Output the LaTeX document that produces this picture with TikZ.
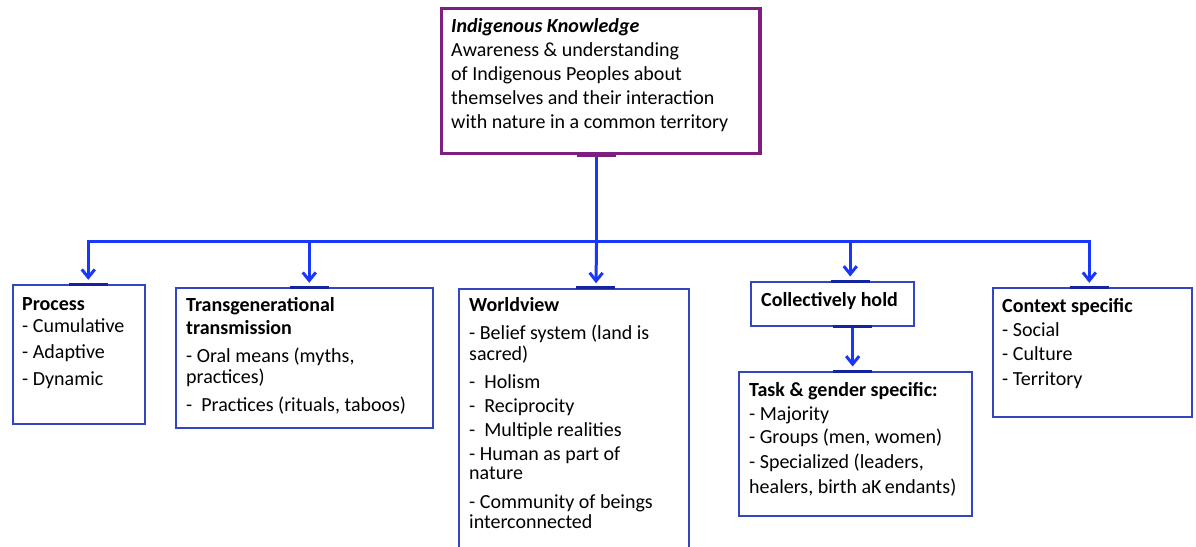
\documentclass[tikz,border=0pt]{standalone}
\usepackage{fontspec}
\setmainfont{Carlito}
\usetikzlibrary{arrows.meta}

\definecolor{ikpurple}{RGB}{125,30,128}
\definecolor{linkblue}{RGB}{25,55,250}
\definecolor{framebl}{RGB}{50,70,195}
\definecolor{pinblue}{RGB}{20,35,160}

\begin{document}
\begin{tikzpicture}[x=1pt,y=-1pt,
  frame/.style={draw=framebl, line width=1.9pt, fill=white, inner sep=0pt,
    anchor=north west},
  topframe/.style={draw=ikpurple, line width=3.2pt, fill=white, inner sep=0pt,
    anchor=north west},
  % texts are anchored at the baseline of their last line
  txt/.style={anchor=base west, inner sep=0pt, align=left,
    font=\fontsize{20}{24}\selectfont},
  link/.style={draw=linkblue, line width=3pt, line join=miter,
    shorten >=4.5pt, -{Straight Barb[length=8pt,width=13pt]}},
  pinline/.style={draw=pinblue, line width=3pt},
  pinpurple/.style={draw=ikpurple, line width=4pt}]

\useasboundingbox (0,0) rectangle (1196,546);

% boxes
\node[topframe, minimum width=318.3, minimum height=145] (ik) at (440,6.7) {};
\node[frame, minimum width=132.3, minimum height=138.4] (process) at (11.7,284.3) {};
\node[frame, minimum width=256.7, minimum height=139.4] (trans) at (175,287.3) {};
\node[frame, minimum width=229.4, minimum height=266] (world) at (458.3,287.7) {};
\node[frame, minimum width=163, minimum height=44] (coll) at (750,281) {};
\node[frame, minimum width=232.7, minimum height=144] (task) at (738.3,371) {};
\node[frame, minimum width=199.3, minimum height=128.4] (context) at (991.7,287.3) {};

% texts
\node[txt] (iktext) at (451,128.3)
  {\textbf{\textit{Indigenous Knowledge}}\\
   Awareness \& understanding\\
   of Indigenous Peoples about\\
   themselves and their interaction\\
   with nature in a common territory};
\node[txt] (processtext) at (22,385)
  {\textbf{Process}\\[-2pt]
   - Cumulative\\[2pt]
   - Adaptive\\[3pt]
   - Dynamic};
\node[txt] (transtext) at (186,411.7)
  {\textbf{Transgenerational}\\[-0.7pt]
   \textbf{transmission}\\[4pt]
   - Oral means (myths,\\[-3pt]
   practices)\\[4pt]
   -\ \ Practices (rituals, taboos)};
\node[txt] (worldtext) at (469,528.3)
  {\textbf{Worldview}\\[3.6pt]
   - Belief system (land is\\[-3.3pt]
   sacred)\\[4.3pt]
   -\ \ Holism\\[0.4pt]
   -\ \ Reciprocity\\
   -\ \ Multiple realities\\[-0.7pt]
   - Human as part of\\[-4.7pt]
   nature\\[5pt]
   - Community of beings\\[-4pt]
   interconnected};
\node[txt] (colltext) at (761,306.7) {\textbf{Collectively hold}};
\node[txt] (tasktext) at (749,493.3)
  {\textbf{Task \& gender specific:}\\[-0.7pt]
   - Majority\\[-0.7pt]
   - Groups (men, women)\\[1pt]
   - Specialized (leaders,\\[1pt]
   healers, birth aK\,endants)};
\node[txt] (contexttext) at (1002,385)
  {\textbf{Context specific}\\[-0.7pt]
   - Social\\
   - Culture\\[1pt]
   - Territory};

% connectors: trunk, bus and drops
\coordinate (hub) at ([xshift=-4.2]ik.south |- 0,241);
\draw[link, -, shorten >=0pt] ([xshift=-4.2]ik.south) -- (hub);
\draw[link] (hub) -| ([xshift=9.45]process.north);
\draw[link] (hub) -| ([xshift=4.95]trans.north);
\draw[link] (hub) -- ([xshift=22]world.north);
\draw[link] (hub) -| ([xshift=17.8]coll.north);
\draw[link] (hub) -| ([xshift=-3]context.north);
\draw[link] ([xshift=20.2]coll.south) -- ([xshift=-2.95]task.north);

% connection marks on the frames
\draw[pinpurple] ([xshift=-23.7]ik.south) -- ([xshift=15.3]ik.south);
\foreach \n/\dx in {process/9.45, trans/4.95, world/22, coll/17.8, context/-3, task/-2.95}
  \draw[pinline] ([xshift=\dx-19.5]\n.north) -- ([xshift=\dx+19.5]\n.north);
\draw[pinline] ([xshift=0.7]coll.south) -- ([xshift=39.7]coll.south);

\end{tikzpicture}
\end{document}
